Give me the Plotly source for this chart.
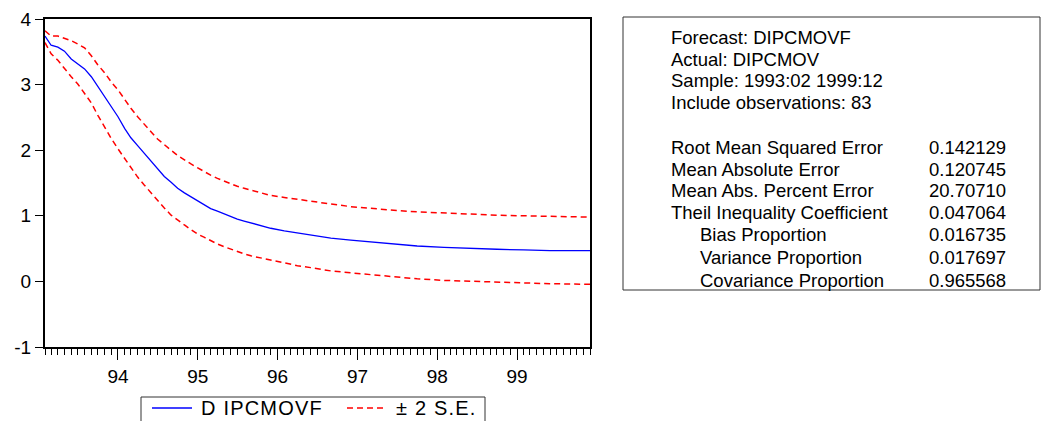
import plotly.graph_objects as go

# ---- data ----
dates = [
    "1993-02-01", "1993-03-01", "1993-04-01", "1993-05-01", "1993-06-01", "1993-07-01",
    "1993-08-01", "1993-09-01", "1993-10-01", "1993-11-01", "1993-12-01",
    "1994-01-01", "1994-02-01", "1994-03-01", "1994-04-01", "1994-05-01", "1994-06-01",
    "1994-07-01", "1994-08-01", "1994-09-01", "1994-10-01", "1994-11-01", "1994-12-01",
    "1995-01-01", "1995-02-01", "1995-03-01", "1995-04-01", "1995-05-01", "1995-06-01",
    "1995-07-01", "1995-08-01", "1995-09-01", "1995-10-01", "1995-11-01", "1995-12-01",
    "1996-02-01", "1996-04-01", "1996-06-01", "1996-09-01", "1996-12-01",
    "1997-03-01", "1997-07-01", "1997-10-01", "1998-02-01", "1998-06-01",
    "1998-10-01", "1999-02-01", "1999-06-01", "1999-12-01",
]
forecast = [
    3.74, 3.60, 3.57, 3.51, 3.39, 3.32, 3.24, 3.12, 2.97, 2.80, 2.65,
    2.51, 2.33, 2.19, 2.07, 1.95, 1.83, 1.71, 1.60, 1.51, 1.42, 1.35, 1.29,
    1.22, 1.16, 1.11, 1.07, 1.03, 0.99, 0.95, 0.92, 0.89, 0.86, 0.83, 0.81,
    0.77, 0.74, 0.71, 0.66, 0.63, 0.60, 0.56, 0.54, 0.52, 0.50,
    0.49, 0.48, 0.47, 0.47,
]
upper = [
    3.82, 3.74, 3.74, 3.71, 3.67, 3.62, 3.56, 3.44, 3.30, 3.18, 3.04,
    2.92, 2.77, 2.64, 2.51, 2.39, 2.28, 2.17, 2.08, 2.00, 1.92, 1.85, 1.79,
    1.73, 1.67, 1.62, 1.57, 1.53, 1.49, 1.45, 1.42, 1.39, 1.36, 1.33, 1.31,
    1.28, 1.25, 1.22, 1.18, 1.14, 1.11, 1.08, 1.06, 1.04, 1.02,
    1.01, 1.00, 0.99, 0.98,
]
lower = [
    3.64, 3.47, 3.37, 3.24, 3.12, 3.01, 2.87, 2.72, 2.53, 2.35, 2.18,
    2.02, 1.87, 1.72, 1.59, 1.47, 1.35, 1.23, 1.12, 1.01, 0.93, 0.86, 0.79,
    0.72, 0.67, 0.62, 0.57, 0.53, 0.49, 0.46, 0.42, 0.39, 0.37, 0.34, 0.32,
    0.28, 0.24, 0.21, 0.16, 0.13, 0.10, 0.06, 0.04, 0.015, 0.00,
    -0.015, -0.025, -0.035, -0.045,
]

y_tick_values = [-1, 0, 1, 2, 3, 4]
y_tick_labels = ["-1", "0", "1", "2", "3", "4"]

legend_names = ["D IPCMOVF", "± 2 S.E."]

header_lines = [
    "Forecast: DIPCMOVF",
    "Actual: DIPCMOV",
    "Sample: 1993:02 1999:12",
    "Include observations: 83",
]
stat_labels = [
    "Root Mean Squared Error",
    "Mean Absolute Error",
    "Mean Abs. Percent Error",
    "Theil Inequality Coefficient",
    "Bias Proportion",
    "Variance Proportion",
    "Covariance Proportion",
]
stat_indent = [False, False, False, False, True, True, True]
stat_values = ["0.142129", "0.120745", "20.70710", "0.047064", "0.016735", "0.017697", "0.965568"]

# ---- layout geometry (pixels) ----
W, H = 1047, 421
ML, MR, MT, MB = 45, 5, 19, 74
PLOT_RIGHT = 590
FONT = "Arial, Liberation Sans, sans-serif"
TABLE_FONT = 18.5
BLUE = "#0000FF"
RED = "#FF0000"
DASH = "6px,4px"


def px_x(p):
    return (p - ML) / (W - ML - MR)


def px_y(q):
    return (H - MB - q) / (H - MT - MB)


fig = go.Figure()
fig.add_trace(go.Scatter(
    x=dates, y=forecast, mode="lines", name=legend_names[0],
    line=dict(color=BLUE, width=1.3),
))
fig.add_trace(go.Scatter(
    x=dates, y=upper, mode="lines", name=legend_names[1],
    line=dict(color=RED, width=1.5, dash=DASH),
))
fig.add_trace(go.Scatter(
    x=dates, y=lower, mode="lines", name=legend_names[1],
    line=dict(color=RED, width=1.5, dash=DASH),
))

fig.update_layout(
    width=W, height=H,
    margin=dict(l=ML, r=MR, t=MT, b=MB, autoexpand=False),
    paper_bgcolor="white", plot_bgcolor="white",
    font=dict(family=FONT, size=18, color="black"),
    showlegend=False,
    xaxis=dict(
        domain=[0, px_x(PLOT_RIGHT)],
        type="date", automargin=False,
        range=["1993-02-01", "1999-12-01"],
        dtick="M12", tick0="1994-01-01", tickformat="%y",
        ticks="outside", ticklen=11, tickwidth=1, tickcolor="black",
        showline=True, linecolor="black", linewidth=2, mirror=True,
        showgrid=False, zeroline=False,
        tickfont=dict(family=FONT, size=19, color="black"),
        minor=dict(dtick="M1", tick0="1993-02-01", ticks="outside", ticklen=6,
                   tickwidth=1, tickcolor="black", showgrid=False),
    ),
    yaxis=dict(
        range=[-1, 4], automargin=False,
        tickmode="array", tickvals=y_tick_values, ticktext=y_tick_labels,
        ticks="outside", ticklen=8, tickwidth=1, tickcolor="black",
        showline=True, linecolor="black", linewidth=2, mirror=True,
        showgrid=False, zeroline=False,
        tickfont=dict(family=FONT, size=19, color="black"),
    ),
)

# ---- legend box (drawn below the plot, cut by the bottom edge as in the reference) ----
LEG_Y = 408
fig.add_shape(type="rect", xref="paper", yref="paper",
              x0=px_x(141), x1=px_x(485), y0=px_y(397), y1=px_y(440),
              line=dict(color="#333333", width=1), fillcolor="white")
fig.add_shape(type="line", xref="paper", yref="paper",
              x0=px_x(152), x1=px_x(192), y0=px_y(LEG_Y), y1=px_y(LEG_Y),
              line=dict(color=BLUE, width=1.3))
fig.add_shape(type="line", xref="paper", yref="paper",
              x0=px_x(347), x1=px_x(387), y0=px_y(LEG_Y), y1=px_y(LEG_Y),
              line=dict(color=RED, width=1.5, dash=DASH))
for name, xl in zip(legend_names, [199, 394]):
    fig.add_annotation(
        text='<span style="letter-spacing:1.2px">' + name + "</span>",
        xref="paper", yref="paper", x=px_x(xl), y=px_y(LEG_Y),
        xanchor="left", yanchor="middle", showarrow=False,
        font=dict(family=FONT, size=20, color="black"),
    )

# ---- statistics box ----
fig.add_shape(
    type="rect", xref="paper", yref="paper",
    x0=px_x(623), x1=px_x(1040), y0=px_y(17), y1=px_y(290),
    line=dict(color="#333333", width=1), fillcolor="white", layer="below",
)

header_y = [37, 59, 80, 102]
for txt, yy in zip(header_lines, header_y):
    fig.add_annotation(
        text=txt, xref="paper", yref="paper", x=px_x(669), y=px_y(yy),
        xanchor="left", yanchor="middle", showarrow=False,
        font=dict(family=FONT, size=TABLE_FONT, color="black"),
    )

stat_y = [147, 169, 190, 212, 235, 257, 280]
for lab, ind, val, yy in zip(stat_labels, stat_indent, stat_values, stat_y):
    fig.add_annotation(
        text=lab, xref="paper", yref="paper", x=px_x(698 if ind else 669), y=px_y(yy),
        xanchor="left", yanchor="middle", showarrow=False,
        font=dict(family=FONT, size=TABLE_FONT, color="black"),
    )
    fig.add_annotation(
        text=val, xref="paper", yref="paper", x=px_x(927), y=px_y(yy),
        xanchor="left", yanchor="middle", showarrow=False,
        font=dict(family=FONT, size=TABLE_FONT, color="black"),
    )

fig.write_html(
    "out.html",
    config={"displayModeBar": False},
    post_script="document.body.style.margin='0';document.body.style.overflow='hidden';",
)
